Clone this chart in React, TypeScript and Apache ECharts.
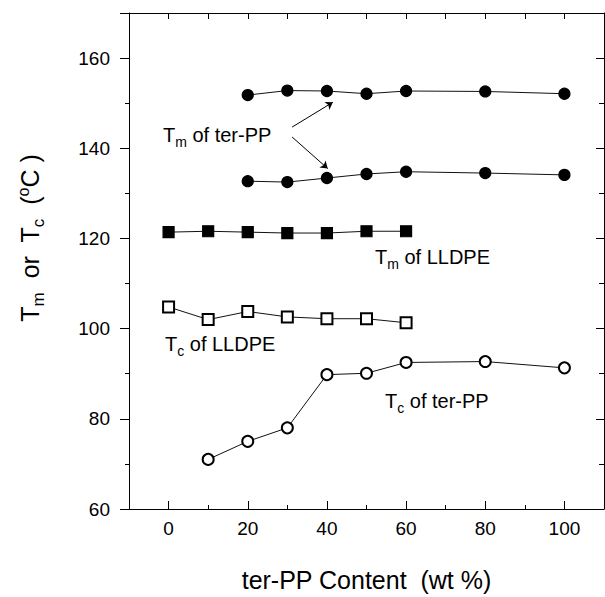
import React, { useEffect, useRef } from "react";
import * as echarts from "echarts";

// ---- data ----
const terPPTmX = [20, 30, 40, 50, 60, 80, 100];
const tmTerPPHigh = [151.8, 152.8, 152.7, 152.1, 152.7, 152.6, 152.1];
const tmTerPPLow = [132.7, 132.5, 133.4, 134.3, 134.8, 134.5, 134.1];
const lldpeX = [0, 10, 20, 30, 40, 50, 60];
const tmLLDPE = [121.4, 121.6, 121.4, 121.2, 121.2, 121.6, 121.6];
const tcLLDPE = [104.8, 102.0, 103.8, 102.6, 102.2, 102.2, 101.3];
const terPPTcX = [10, 20, 30, 40, 50, 60, 80, 100];
const tcTerPP = [71.0, 75.0, 78.0, 89.8, 90.1, 92.5, 92.7, 91.3];

const xMajorTicks = [0, 20, 40, 60, 80, 100];
const xMinorTicks = [10, 30, 50, 70, 90];
const xLabelValues = [0, 20, 40, 60, 80, 100];

// annotation arrows (data coordinates): [start, end]
const arrowUp = [[31.2, 144.7], [41.5, 150.2]];
const arrowDown = [[31.2, 142.5], [40.2, 135.5]];

const FONT = "'Liberation Sans', Arial, Helvetica, sans-serif";
const BLACK = "#000";

function pairs(xs: number[], ys: number[]) {
  return xs.map((x, i) => [x, ys[i]]);
}

function annotation(x: number, y: number, sub: string, rest: string) {
  return {
    type: "text",
    x,
    y,
    silent: true,
    style: {
      text: `{a|T}{s|${sub}}{a|${rest}}`,
      align: "left",
      verticalAlign: "middle",
      fill: BLACK,
      rich: {
        a: { fontSize: 20, fontFamily: FONT, fill: BLACK },
        s: { fontSize: 14, fontFamily: FONT, fill: BLACK, padding: [14, 0, 0, 0] },
      },
    },
  };
}

export default function App() {
  const ref = useRef<HTMLDivElement>(null);

  useEffect(() => {
    if (!ref.current) return;
    const chart = echarts.init(ref.current, null, { renderer: "svg" });
    const lineStyle = { color: BLACK, width: 1 };

    const baseSeries = (name: string, data: number[][], symbol: string) => ({
      name,
      type: "line",
      xAxisIndex: 0,
      yAxisIndex: 0,
      data,
      symbol,
      symbolSize: 11,
      showSymbol: true,
      lineStyle: { color: "#111", width: 1 },
      itemStyle: { color: BLACK, borderColor: BLACK, borderWidth: 1.2 },
      emphasis: { disabled: true },
      z: 3,
    });

    const option: any = {
      animation: false,
      backgroundColor: "#fff",
      textStyle: { fontFamily: FONT, color: BLACK },
      grid: { left: 129, right: 1, top: 13, bottom: 82, containLabel: false },
      xAxis: [
        {
          type: "value",
          position: "bottom",
          min: -10,
          max: 110,
          axisLine: { show: true, onZero: false, lineStyle },
          axisTick: { show: true, inside: true, length: 8, customValues: xMajorTicks, lineStyle },
          axisLabel: {
            show: true,
            customValues: xLabelValues,
            fontSize: 19,
            color: BLACK,
            fontFamily: FONT,
            margin: 10,
          },
          splitLine: { show: false },
          name: "ter-PP Content  (wt %)",
          nameLocation: "middle",
          nameGap: 58,
          nameTextStyle: { fontSize: 25, color: BLACK, fontFamily: FONT },
        },
        {
          type: "value",
          position: "bottom",
          min: -10,
          max: 110,
          axisLine: { show: false, onZero: false },
          axisTick: { show: true, inside: true, length: 4, customValues: xMinorTicks, lineStyle },
          axisLabel: { show: false },
          splitLine: { show: false },
        },
        {
          type: "value",
          position: "top",
          min: -10,
          max: 110,
          interval: 10,
          axisLine: { show: true, onZero: false, lineStyle },
          axisTick: { show: true, inside: true, length: 6, lineStyle },
          axisLabel: { show: false },
          splitLine: { show: false },
        },
      ],
      yAxis: [
        {
          type: "value",
          position: "left",
          min: 60,
          max: 170,
          interval: 20,
          axisLine: { show: true, onZero: false, lineStyle },
          axisTick: { show: true, inside: false, length: 9, lineStyle },
          minorTick: { show: true, splitNumber: 2, length: 4, lineStyle },
          axisLabel: {
            fontSize: 19,
            color: BLACK,
            fontFamily: FONT,
            margin: 19,
            formatter: (v: number) => (v <= 160 ? String(v) : ""),
          },
          splitLine: { show: false },
        },
        {
          type: "value",
          position: "right",
          min: 60,
          max: 170,
          interval: 20,
          axisLine: { show: true, onZero: false, lineStyle },
          axisTick: { show: true, inside: true, length: 8, lineStyle },
          minorTick: { show: true, splitNumber: 2, length: 5, lineStyle },
          axisLabel: { show: false },
          splitLine: { show: false },
        },
      ],
      series: [
        {
          ...baseSeries("Tm of ter-PP (high)", pairs(terPPTmX, tmTerPPHigh), "circle"),
          markLine: {
            silent: true,
            symbol: ["none", "arrow"],
            symbolSize: 7,
            label: { show: false },
            lineStyle: { color: BLACK, width: 1, type: "solid" },
            emphasis: { disabled: true },
            data: [
              [{ coord: arrowUp[0] }, { coord: arrowUp[1] }],
              [{ coord: arrowDown[0] }, { coord: arrowDown[1] }],
            ],
          },
        },
        baseSeries("Tm of ter-PP (low)", pairs(terPPTmX, tmTerPPLow), "circle"),
        baseSeries("Tm of LLDPE", pairs(lldpeX, tmLLDPE), "rect"),
        baseSeries("Tc of LLDPE", pairs(lldpeX, tcLLDPE), "emptyRect"),
        baseSeries("Tc of ter-PP", pairs(terPPTcX, tcTerPP), "emptyCircle"),
      ],
      graphic: [
        annotation(163, 135, "m", " of ter-PP"),
        annotation(375, 257, "m", " of LLDPE"),
        annotation(165, 344, "c", " of LLDPE"),
        annotation(385, 401, "c", " of ter-PP"),
        {
          type: "text",
          x: 30,
          y: 238,
          rotation: Math.PI / 2,
          silent: true,
          style: {
            text: "{a|T}{s|m}{a|  or  T}{s|c}{a|  (}{p|o}{a|C )}",
            align: "center",
            verticalAlign: "middle",
            fill: BLACK,
            rich: {
              a: { fontSize: 25, fontFamily: FONT, fill: BLACK },
              s: { fontSize: 17, fontFamily: FONT, fill: BLACK, padding: [16, 0, 0, 0] },
              p: { fontSize: 16, fontFamily: FONT, fill: BLACK, padding: [0, 0, 14, 0] },
            },
          },
        },
      ],
    };

    chart.setOption(option);
    return () => chart.dispose();
  }, []);

  return (
    <div
      ref={ref}
      style={{ position: "absolute", left: 0, top: 0, width: 605, height: 597, background: "#fff" }}
    />
  );
}
